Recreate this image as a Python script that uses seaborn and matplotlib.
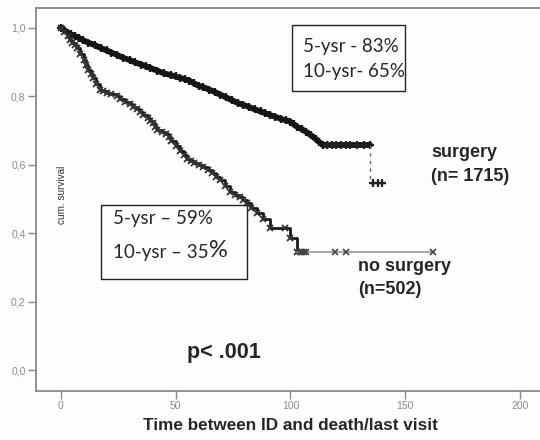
import matplotlib
matplotlib.use("Agg")
import matplotlib.pyplot as plt
import seaborn as sns
import pandas as pd
from matplotlib.patches import Rectangle

# Kaplan-Meier estimates (time in months, cumulative survival)
surg_time = [0, 1.5, 3, 4.5, 6, 8, 9.7, 12, 15, 17.5, 20, 22, 24.5, 27, 30, 32.5,
             35, 37, 39, 42, 45, 48, 50, 52, 54, 56, 58, 60, 62, 64.5, 67, 69.5,
             72, 74.5, 77, 79.5, 82, 84.5, 87, 89, 91, 93.5, 96, 98, 100, 101.5,
             103, 105, 107, 109, 111, 112.5, 114, 134.7]
surg_surv = [1.0, 0.993, 0.985, 0.98, 0.975, 0.969, 0.963, 0.956, 0.948, 0.94,
             0.933, 0.927, 0.92, 0.912, 0.905, 0.898, 0.892, 0.887, 0.882, 0.874,
             0.866, 0.861, 0.857, 0.853, 0.849, 0.845, 0.837, 0.83, 0.826, 0.819,
             0.812, 0.804, 0.796, 0.788, 0.78, 0.774, 0.768, 0.761, 0.755, 0.75,
             0.745, 0.739, 0.733, 0.729, 0.725, 0.717, 0.71, 0.703, 0.695, 0.685,
             0.675, 0.666, 0.657, 0.657]
surg_tail_time = [134.7, 141]
surg_tail_surv = [0.546, 0.546]
surg_censor = [116, 118, 120, 122, 124, 126, 129, 132, 136, 138, 140]

nosurg_time = [0, 1.5, 3, 4, 5, 6, 7, 8.5, 10, 11, 12, 13, 14, 15.5, 17, 18.5, 20,
               22, 24.5, 26, 28, 30, 31.5, 33, 34.5, 36, 38, 39, 40, 41, 42, 44,
               46, 47, 48, 50, 52, 53.5, 55, 56.5, 58, 60, 62, 64, 66, 67.5, 69.4,
               71.5, 73.8, 76, 78, 79.5, 81, 83, 85.5, 88, 91, 97.7, 100, 103, 162]
nosurg_surv = [1.0, 0.988, 0.975, 0.965, 0.955, 0.948, 0.94, 0.922, 0.905, 0.89,
               0.875, 0.864, 0.853, 0.835, 0.818, 0.814, 0.81, 0.805, 0.80, 0.792,
               0.783, 0.776, 0.768, 0.761, 0.753, 0.744, 0.735, 0.728, 0.72, 0.71,
               0.70, 0.695, 0.69, 0.68, 0.67, 0.655, 0.64, 0.628, 0.615, 0.61,
               0.605, 0.599, 0.593, 0.584, 0.575, 0.565, 0.555, 0.537, 0.52, 0.512,
               0.505, 0.497, 0.488, 0.473, 0.458, 0.44, 0.415, 0.415, 0.385, 0.345,
               0.345]
nosurg_censor = [104, 105, 106, 107, 119.5, 124, 162]

x_ticks = [0, 50, 100, 150, 200]
y_ticks = [0.0, 0.2, 0.4, 0.6, 0.8, 1.0]
y_tick_labels = ["0,0", "0,2", "0,4", "0,6", "0,8", "1,0"]

sns.set_theme(style="white")
plt.rcParams["font.family"] = ["Liberation Sans", "DejaVu Sans"]

fig = plt.figure(figsize=(5.4, 4.4), dpi=100, facecolor="#fdfdfd")
ax = fig.add_axes([36 / 540, 1 - 391 / 440, 1 - 36 / 540, (391 - 8) / 440])
ax.set_facecolor("#fdfdfd")

surg = pd.DataFrame({"t": surg_time, "s": surg_surv})
nosurg = pd.DataFrame({"t": nosurg_time, "s": nosurg_surv})

# surgery group: heavy curve (densely censored), then the late steps
sns.lineplot(data=surg, x="t", y="s", ax=ax, color="#151515", lw=4.2,
             estimator=None, sort=False)
ax.plot(surg["t"], surg["s"], ls="none", marker="+", ms=6, mew=1.6,
        color="#151515")
ax.plot([surg_time[-1], surg_tail_time[0]], [surg_surv[-1], surg_tail_surv[0]],
        color="#666666", lw=1.0, ls=(0, (2.5, 3)))
ax.plot(surg_tail_time, surg_tail_surv, color="#444444", lw=1.0)
cs = [surg_surv[-1] if t < surg_time[-1] else surg_tail_surv[0] for t in surg_censor]
ax.plot(surg_censor, cs, ls="none", marker="+", ms=6, mew=1.6, color="#222222")

# no-surgery group: jagged curve with cross markers, then flat tail
main = nosurg.iloc[:-1]
sns.lineplot(data=main, x="t", y="s", ax=ax, drawstyle="steps-post",
             color="#1a1a1a", lw=2.0, estimator=None, sort=False)
ax.plot(main["t"], main["s"], ls="none", marker="x", ms=4.5, mew=1.3,
        color="#333333")
ax.plot(nosurg_time[-2:], nosurg_surv[-2:], color="#999999", lw=1.2)
ax.plot(nosurg_censor, [nosurg_surv[-1]] * len(nosurg_censor), ls="none",
        marker="x", ms=4.5, mew=1.2, color="#444444")

ax.set_xlim(-10.8, 208.7)
ax.set_ylim(-0.0613, 1.057)
ax.set_xticks(x_ticks)
ax.set_yticks(y_ticks)
ax.set_yticklabels(y_tick_labels)
ax.tick_params(axis="both", which="major", direction="out", length=6, width=1,
               color="#888888", labelcolor="#8a8a8a", labelsize=7.5, pad=1.5,
               left=True, bottom=True)
for side in ["left", "bottom", "top"]:
    ax.spines[side].set_color("#888888")
    ax.spines[side].set_linewidth(1.3)
ax.spines["right"].set_visible(False)
ax.set_xlabel("")
ax.set_ylabel("")

fig.text(0.537, 1 - 425 / 440, "Time between ID and death/last visit",
         ha="center", va="center", fontsize=12.3, fontweight="bold")

ax.text(0.57, 0.511, "cum. survival", rotation=90, ha="center", va="center",
        fontsize=7.2, color="#333333")

box_font = ["Lato", "DejaVu Sans"]
ax.add_patch(Rectangle((100.7, 0.815), 150.0 - 100.7, 1.007 - 0.815,
                       fill=False, ec="#222222", lw=1.0))
ax.text(105.5, 0.946, "5-ysr - 83%", family=box_font, fontsize=13.5, va="center")
ax.text(105.5, 0.871, "10-ysr- 65%", family=box_font, fontsize=13.5, va="center")

ax.add_patch(Rectangle((17.6, 0.266), 81.1 - 17.6, 0.482 - 0.266,
                       fill=False, ec="#222222", lw=1.0))
ax.text(22.8, 0.441, "5-ysr \u2013 59%", family=box_font, fontsize=13.5, va="center")
t2 = ax.text(22.8, 0.327, "10-ysr \u2013 35", family=box_font, fontsize=13.5,
             va="baseline")
ax.annotate("%", xy=(1, 0), xycoords=t2, va="bottom", ha="left",
            family=box_font, fontsize=17)

ax.text(161.3, 0.634, "surgery", fontsize=13, fontweight="bold", va="center")
ax.text(161.3, 0.566, "(n= 1715)", fontsize=13, fontweight="bold", va="center")
ax.text(129.5, 0.301, "no surgery", fontsize=13, fontweight="bold", va="center")
ax.text(129.5, 0.234, "(n=502)", fontsize=13, fontweight="bold", va="center")
ax.text(55, 0.05, "p< .001", fontsize=15.5, fontweight="bold", va="center")

fig.savefig("out.png", dpi=100, facecolor=fig.get_facecolor())
